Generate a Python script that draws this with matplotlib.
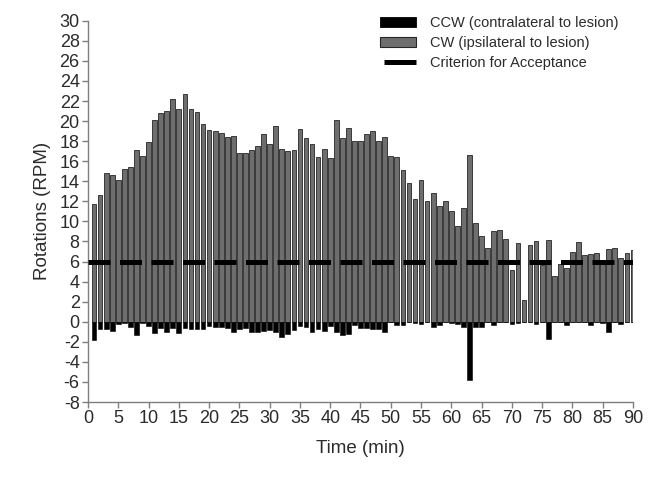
import numpy as np
import matplotlib
matplotlib.use("Agg")
import matplotlib.pyplot as plt
from matplotlib.lines import Line2D
from matplotlib.patches import Patch

plt.rcParams["font.family"] = ["Liberation Sans", "DejaVu Sans"]
plt.rcParams["axes.unicode_minus"] = False

# minutes after injection
minutes = np.arange(1, 91)

# clockwise rotations (ipsilateral), RPM
cw_rpm = [
    11.7, 12.6, 14.8, 14.6, 14.1, 15.2, 15.4, 17.1, 16.5, 17.9,
    20.1, 20.8, 21.0, 22.2, 21.2, 22.7, 21.2, 20.9, 19.7, 19.1,
    19.0, 18.8, 18.4, 18.5, 16.8, 16.8, 17.1, 17.5, 18.7, 17.7,
    19.5, 17.2, 17.0, 17.1, 19.2, 18.3, 17.7, 16.4, 17.2, 16.3,
    20.1, 18.3, 19.3, 18.0, 18.0, 18.7, 19.0, 18.0, 18.4, 16.5,
    16.4, 15.1, 13.8, 12.2, 14.1, 12.0, 12.8, 11.5, 12.0, 11.0,
    9.5, 11.3, 16.6, 9.8, 8.5, 7.4, 9.0, 9.1, 8.2, 5.2,
    7.8, 2.2, 7.6, 8.0, 5.7, 8.1, 4.6, 5.8, 5.4, 7.0,
    7.9, 6.7, 6.8, 6.9, 6.1, 7.3, 7.4, 6.4, 6.9, 7.2,
]

# counter-clockwise rotations (contralateral), plotted as negative RPM
ccw_rpm = [
    -1.8, -0.7, -0.7, -0.9, -0.2, -0.1, -0.5, -1.3, -0.1, -0.45,
    -1.1, -0.6, -1.0, -0.65, -1.1, -0.6, -0.7, -0.7, -0.75, -0.4,
    -0.55, -0.55, -0.6, -1.0, -0.7, -0.65, -1.0, -1.0, -0.9, -0.8,
    -1.0, -1.5, -1.2, -0.8, -0.4, -0.55, -1.0, -0.7, -0.9, -0.4,
    -1.0, -1.3, -1.2, -0.3, -0.6, -0.6, -0.75, -0.75, -1.0, -0.05,
    -0.3, -0.3, -0.05, -0.15, -0.2, -0.05, -0.55, -0.35, -0.05, -0.15,
    -0.2, -0.5, -5.8, -0.5, -0.5, -0.05, -0.3, -0.05, -0.05, -0.2,
    -0.15, 0.0, -0.05, -0.2, -0.05, -1.75, -0.05, 0.0, -0.3, -0.05,
    0.0, -0.05, -0.35, -0.05, -0.15, -1.0, -0.05, -0.2, 0.0, -0.05,
]

criterion_rpm = 6
legend_labels = [
    "CCW (contralateral to lesion)",
    "CW (ipsilateral to lesion)",
    "Criterion for Acceptance",
]

TEXT = "#2b2b2b"
AXIS = "#7f7f7f"

fig = plt.figure(figsize=(6.49, 4.83), dpi=100)
ax = fig.add_axes([0.1356, 0.1677, 0.8397, 0.7893])

ax.bar(minutes, cw_rpm, width=0.78, color="#6e6e6e",
       edgecolor="#262626", linewidth=0.6, zorder=2)
ax.bar(minutes, ccw_rpm, width=0.78, color="black",
       edgecolor="black", linewidth=0.4, zorder=2)
# acceptance threshold
ax.plot([0, 90], [criterion_rpm, criterion_rpm], color="black",
        linewidth=3.6, linestyle=(0, (4.4, 1.9)), dash_capstyle="butt",
        zorder=3)

ax.set_xlim(0, 90)
ax.set_ylim(-8, 30)
ax.set_xticks(np.arange(0, 91, 5))
ax.set_yticks(np.arange(-8, 31, 2))

for side in ("top", "right"):
    ax.spines[side].set_visible(False)
for side in ("left", "bottom"):
    ax.spines[side].set_color(AXIS)
    ax.spines[side].set_linewidth(1.0)
ax.tick_params(direction="out", length=4, width=1.0, color=AXIS,
               labelsize=13, labelcolor=TEXT, pad=2)

ax.set_xlabel("Time (min)", fontsize=13.5, color=TEXT, labelpad=9)
ax.set_ylabel("Rotations (RPM)", fontsize=13.5, color=TEXT, labelpad=6)

handles = [
    Patch(facecolor="black", edgecolor="black", linewidth=0.6),
    Patch(facecolor="#6e6e6e", edgecolor="#262626", linewidth=0.8),
    Line2D([0], [0], color="black", linewidth=3.6,
           linestyle=(-0.8, (6.5, 20)), dash_capstyle="butt"),
]
fig.legend(handles, legend_labels, loc="upper left",
           bbox_to_anchor=(380 / 649, 1 - 16 / 483), frameon=False,
           fontsize=10.5, labelcolor=TEXT, borderpad=0, borderaxespad=0,
           handlelength=2.5, handletextpad=0.95, labelspacing=0.4)

fig.savefig("out.png", dpi=100)
